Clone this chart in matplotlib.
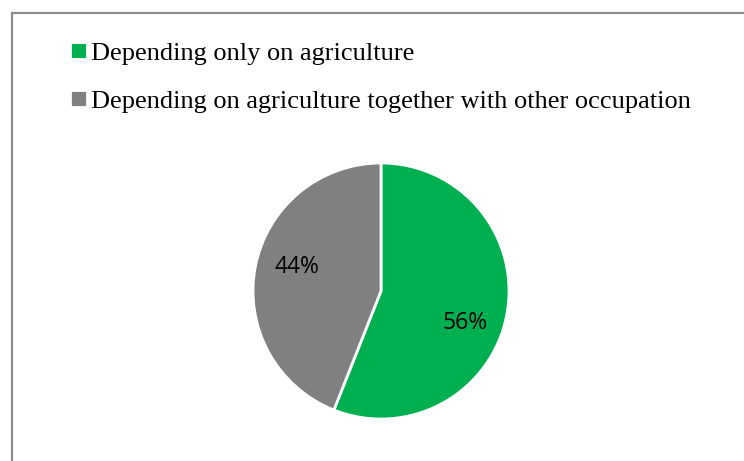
import matplotlib.pyplot as plt
from matplotlib.lines import Line2D

labels = ['Depending only on agriculture',
          'Depending on agriculture together with other occupation']
shares = [56, 44]
colors = ['#00B050', '#808080']

W, H = 744, 461
fig = plt.figure(figsize=(W / 100, H / 100), dpi=100)

# chart frame (only left and top edges are visible in the crop)
fig.add_artist(Line2D([12 / W, 12 / W], [0, 1 - 13 / H], color='#8c8c8c', lw=1.6,
                      transform=fig.transFigure))
fig.add_artist(Line2D([12 / W, 1], [1 - 13 / H, 1 - 13 / H], color='#8c8c8c', lw=1.6,
                      transform=fig.transFigure))

cx, cy, r = 381, 291, 128
ax = fig.add_axes([(cx - r) / W, (H - cy - r) / H, 2 * r / W, 2 * r / H])
wedges, texts, autotexts = ax.pie(
    shares, colors=colors, startangle=90, counterclock=False,
    autopct='%d%%', pctdistance=0.72,
    wedgeprops=dict(edgecolor='white', linewidth=2),
    textprops=dict(fontsize=16.5, family='Open Sans', color='black'))
autotexts[0].set_position((0.66, -0.25))
autotexts[1].set_position((-0.66, 0.19))
ax.set_aspect('equal')
ax.set_xlim(-1.0, 1.0)
ax.set_ylim(-1.0, 1.0)

fig.legend(wedges, labels, loc='upper left', bbox_to_anchor=(59 / W, 1 - 31 / H),
           frameon=False, prop=dict(family='Liberation Serif', size=19),
           handlelength=0.65, handleheight=0.65, handletextpad=0.15,
           labelspacing=0.95, borderaxespad=0)

plt.savefig('out.png', dpi=100)
